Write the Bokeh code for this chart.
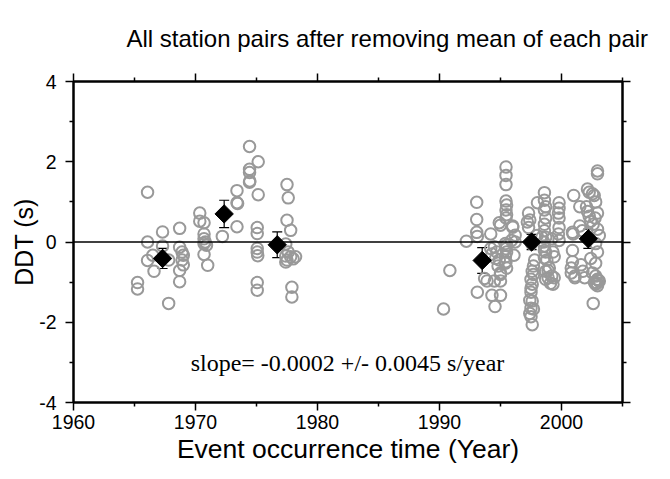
from bokeh.plotting import figure
from bokeh.models import Range1d, FixedTicker, LinearAxis, Span, Label, Whisker, TeeHead, ColumnDataSource, Title
from bokeh.embed import file_html
from bokeh.resources import INLINE
import numpy as np

# individual station-pair DDT values (years, seconds)
early_year = [1965.25, 1965.25,
              1966.07, 1966.07, 1966.07, 1966.5, 1966.6,
              1967.3, 1967.3, 1967.8, 1967.8,
              1968.7, 1968.7, 1968.9, 1969.0, 1968.9, 1969.0, 1968.7, 1968.7,
              1970.35, 1970.35, 1970.7, 1970.7, 1970.7, 1970.8, 1970.7, 1970.9, 1970.7, 1971.0,
              1972.2,
              1973.4, 1973.4, 1973.45, 1973.4,
              1974.43, 1974.43, 1974.43, 1974.43, 1974.45,
              1975.14, 1975.14, 1975.06, 1975.06, 1975.06, 1975.06, 1975.1, 1975.06, 1975.06,
              1977.5, 1977.6, 1977.5, 1977.8, 1977.4, 1977.6, 1977.4, 1977.8, 1978.2, 1977.5,
              1978.0, 1977.4, 1977.9, 1977.9]
early_ddt = [-1.01, -1.17,
             1.24, 0.0, -0.46, -0.33, -0.73,
             0.25, -0.1, -0.45, -1.53,
             0.34, -0.13, -0.25, -0.33, -0.45, -0.57, -0.71, -0.99,
             0.72, 0.52, 0.48, 0.2, 0.08, 0.0, -0.04, -0.08, -0.31, -0.58,
             0.14,
             1.28, 0.98, 0.96, 0.38,
             2.38, 1.81, 1.73, 1.49, 1.52,
             2.0, 1.18, 0.36, 0.21, -0.16, -0.25, -0.34, -1.01, -1.2,
             1.43, 1.1, 0.54, 0.29, -0.05, -0.25, -0.35, -0.37, -0.37, -0.45,
             -0.42, -0.5, -1.13, -1.37]

late_year = [1990.33, 1990.85, 1992.2,
             1993.05, 1993.05, 1993.05, 1993.1, 1993.1,
             1993.7, 1993.9,
             1994.2, 1994.5, 1994.2, 1994.3, 1994.5, 1994.3, 1994.55,
             1994.9, 1994.9, 1995.0, 1995.0, 1995.0, 1994.8, 1995.0, 1994.7, 1994.6, 1995.0,
             1995.45, 1995.45, 1995.45, 1995.45, 1995.5, 1995.45, 1995.5, 1995.45,
             1995.4, 1995.45, 1995.5, 1995.4, 1995.45, 1995.5, 1995.4, 1995.5,
             1996.0, 1996.2, 1995.9, 1996.2, 1996.0, 1996.1,
             1997.3, 1997.4, 1997.2, 1997.3, 1997.55, 1997.8,
             1997.6, 1997.7, 1997.5, 1997.6, 1997.5, 1997.4, 1997.6, 1997.5, 1997.7,
             1997.4, 1997.5, 1997.6, 1997.7, 1997.5,
             1998.03, 1998.0, 1998.4, 1998.55,
             1998.6, 1998.6, 1998.7, 1998.6, 1998.7, 1998.6, 1998.6, 1998.7, 1998.6,
             1998.6, 1998.7, 1998.6, 1998.8, 1998.9, 1998.7, 1998.9, 1998.7, 1999.1,
             1999.8, 1999.8, 1999.75, 1999.8, 1999.8, 1999.75, 1999.8,
             1999.3, 1999.4, 1999.0, 1999.2, 1999.4, 1999.3, 1999.2,
             2001.0, 2000.9, 2000.9, 2000.95, 2000.9, 2000.8, 2000.8, 2001.1, 2001.1,
             2001.5, 2001.7, 2001.5, 2001.6, 2001.75, 2001.9,
             2002.13, 2002.27, 2002.54, 2002.68, 2002.05, 2002.13, 2002.8, 2002.95,
             2002.27, 2002.4, 2002.75, 2002.95, 2003.1, 2002.8, 2002.95, 2002.8,
             2002.4, 2002.6, 2002.54, 2002.8, 2002.95, 2003.1, 2002.8, 2002.95,
             2002.95, 2002.95, 2002.7, 2002.9, 2003.0, 2002.6]
late_ddt = [-1.67, -0.71, 0.02,
            0.99, 0.56, 0.24, 0.14, -1.25,
            -0.91, -0.97,
            0.2, -0.12, -0.16, -0.3, -0.97, -1.33, -1.61,
            0.48, -0.45, -0.81, -0.97, -1.33, -0.6, 0.42, -0.25, -0.41, -0.77,
            1.87, 1.66, 1.43, 1.02, 0.92, 0.8, 0.68, 0.6,
            -0.04, -0.17, -0.25, -0.37, -0.49, -0.08, -0.53, -0.65,
            0.4, 0.17, 0.04, 0.0, 0.37, -0.33,
            0.72, 0.55, 0.5, 0.36, -0.04, -0.45,
            -0.73, -0.81, -0.93, -1.05, -1.25, -1.45, -1.47, -1.65, -1.67,
            -1.78, -1.86, -2.06, -0.6, -1.15,
            0.98, 0.16, 0.12, 0.0,
            1.23, 1.04, 0.88, 0.8, 0.6, 0.44, 0.28, 0.12, -0.1,
            -0.21, -0.25, -0.39, -0.45, -0.71, -0.73, -0.89, -0.93, -1.03,
            0.98, 0.84, 0.72, 0.6, 0.36, 0.2, 0.04,
            -0.25, -0.37, -0.65, -0.85, -0.89, -1.05, 0.08,
            1.16, 0.24, -0.21, 0.2, -0.49, -0.65, -0.77, -0.89, -0.85,
            0.4, 0.28, 0.88, -0.57, -0.73, -0.89,
            1.32, 1.24, 1.2, 1.16, 0.88, 0.76, 1.0, 0.72,
            0.64, 0.52, 0.6, 0.32, 0.16, -0.04, -0.25, -0.53,
            -0.41, -1.53, -0.77, -0.85, -0.93, -0.97, -1.05, -1.09,
            1.77, 1.7, -1.0, -1.02, -0.95, 0.44]

# binned means with standard errors
mean_year = [1967.3, 1972.35, 1976.7, 1993.5, 1997.55, 2002.2]
mean_ddt = [-0.41, 0.70, -0.07, -0.46, 0.0, 0.08]
mean_err = [0.25, 0.34, 0.32, 0.32, 0.19, 0.24]

x_major = [1960, 1970, 1980, 1990, 2000]
x_minor = [1965, 1975, 1985, 1995, 2005]
y_major = [-4, -2, 0, 2, 4]
y_minor = [-3, -1, 1, 3]
y_tick_text = {-4: "-4", -2: "-2", 0: "0", 2: "2", 4: "4"}

title_text = "All station pairs after removing mean of each pair"
x_title = "Event occurrence time (Year)"
y_title = "DDT (s)"
slope_text = "slope= -0.0002 +/- 0.0045 s/year"

SANS = "Liberation Sans"
SERIF = "Liberation Serif"

p = figure(width=654, height=463, output_backend="svg", toolbar_location=None,
           x_range=Range1d(1960, 2005), y_range=Range1d(-4, 4),
           min_border_left=73, min_border_right=32, min_border_top=0, min_border_bottom=0,
           x_axis_location=None, y_axis_location=None)
p.title.text = title_text
p.title.text_font = SANS
p.title.text_font_size = "24px"
p.title.text_font_style = "normal"
p.title.text_color = "black"
p.title.align = "left"
p.title.offset = 53
p.title.standoff = 44
p.grid.visible = False
p.outline_line_color = "black"
p.outline_line_width = 2
p.background_fill_color = "white"
p.border_fill_color = "white"


def make_axis(major, minor, labels, standoff):
    ax = LinearAxis(ticker=FixedTicker(ticks=major, minor_ticks=minor))
    ax.axis_line_width = 2
    ax.axis_line_color = "black"
    ax.major_tick_line_color = "black"
    ax.minor_tick_line_color = "black"
    ax.major_tick_line_width = 1.5
    ax.minor_tick_line_width = 1.5
    ax.major_tick_out = 8
    ax.major_tick_in = 0
    ax.minor_tick_out = 4
    ax.minor_tick_in = 0
    ax.major_label_text_font = SANS
    ax.major_label_text_font_size = "19.5px"
    ax.major_label_text_color = "black"
    ax.major_label_standoff = standoff
    ax.axis_label_text_font = SANS
    ax.axis_label_text_font_size = "25px"
    ax.axis_label_text_font_style = "normal"
    ax.axis_label_text_color = "black"
    if not labels:
        ax.major_label_text_font_size = "0px"
        ax.major_label_text_alpha = 0
    return ax


xb = make_axis(x_major, x_minor, True, 4)
p.add_layout(xb, "below")
p.add_layout(Title(text=x_title, align="center", vertical_align="bottom", standoff=0,
                   text_font=SANS, text_font_size="26.5px", text_font_style="normal",
                   text_color="black"), "below")
xt = make_axis(x_major, x_minor, False, 0)
p.add_layout(xt, "above")
yl = make_axis(y_major, y_minor, True, 9)
yl.major_label_overrides = y_tick_text
yl.axis_label = y_title
yl.axis_label_standoff = -2
p.add_layout(yl, "left")
yr = make_axis(y_major, y_minor, False, 0)
p.add_layout(yr, "right")

p.scatter(early_year + late_year, early_ddt + late_ddt, marker="circle", size=11.5,
          fill_color=None, line_color="#999999", line_width=2)

p.add_layout(Span(location=0, dimension="width", line_color="black", line_width=1.3))

src = ColumnDataSource(data=dict(x=mean_year, y=mean_ddt,
                                 upper=[m + e for m, e in zip(mean_ddt, mean_err)],
                                 lower=[m - e for m, e in zip(mean_ddt, mean_err)]))
p.add_layout(Whisker(source=src, base="x", upper="upper", lower="lower", dimension="height",
                     line_color="black", line_width=1.2,
                     upper_head=TeeHead(size=10, line_color="black", line_width=1.2),
                     lower_head=TeeHead(size=10, line_color="black", line_width=1.2)))
p.scatter("x", "y", source=src, marker="square", angle=np.pi / 4, size=13,
          fill_color="black", line_color="black", line_width=1)

p.add_layout(Label(x=1982.46, y=-3.02, text=slope_text, text_font=SERIF,
                   text_font_size="24px", text_align="center", text_baseline="middle",
                   text_color="black"))

open("out.html", "w").write(file_html(p, INLINE))
